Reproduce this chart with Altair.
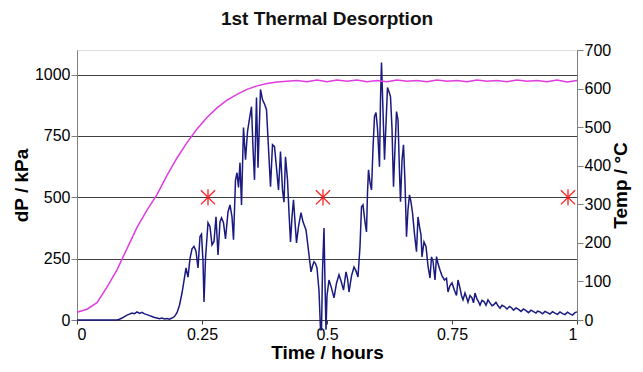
import altair as alt
import pandas as pd

# ---- data ----
time_dp = [0.0, 0.08, 0.085, 0.09, 0.095, 0.10, 0.105, 0.11, 0.115, 0.12, 0.125, 0.13, 0.135, 0.14, 0.145,
           0.15, 0.155, 0.16, 0.165, 0.17, 0.175, 0.18, 0.185, 0.19, 0.195, 0.20, 0.205, 0.21,
           0.214, 0.218, 0.222, 0.226, 0.230, 0.234, 0.238, 0.242, 0.246, 0.249, 0.252, 0.254, 0.257,
           0.262, 0.266, 0.270, 0.274, 0.278, 0.282, 0.286, 0.289, 0.293, 0.297, 0.302, 0.306, 0.310,
           0.313, 0.317, 0.320, 0.323, 0.326, 0.329, 0.333, 0.337, 0.341, 0.345, 0.349, 0.352, 0.355,
           0.359, 0.362, 0.367, 0.371, 0.375, 0.379, 0.383, 0.387, 0.391, 0.395, 0.399, 0.403, 0.407,
           0.411, 0.414, 0.417, 0.421, 0.424, 0.427, 0.430, 0.433, 0.436, 0.439, 0.443, 0.448, 0.452,
           0.458, 0.462, 0.468, 0.471, 0.474, 0.477, 0.480, 0.484, 0.487, 0.489, 0.491, 0.494, 0.496,
           0.498, 0.500, 0.504, 0.509, 0.514, 0.519, 0.524, 0.528, 0.533, 0.538, 0.541, 0.544, 0.549,
           0.554, 0.558, 0.562, 0.566, 0.569, 0.572, 0.576, 0.579, 0.581, 0.583, 0.586, 0.589, 0.592,
           0.595, 0.598, 0.601, 0.605, 0.607, 0.609, 0.612, 0.615, 0.618, 0.621, 0.624, 0.627, 0.630,
           0.633, 0.636, 0.639, 0.642, 0.645, 0.647, 0.650, 0.653, 0.656, 0.659, 0.662, 0.665, 0.668,
           0.671, 0.675, 0.679, 0.682, 0.685, 0.688, 0.690, 0.694, 0.698, 0.702, 0.706, 0.709, 0.712,
           0.716, 0.719, 0.722, 0.726, 0.730, 0.735, 0.739, 0.742, 0.746, 0.750, 0.755, 0.759, 0.762,
           0.766, 0.769, 0.772, 0.776, 0.779, 0.782, 0.786, 0.790, 0.793, 0.796, 0.800, 0.803, 0.806,
           0.810, 0.814, 0.818, 0.822, 0.826, 0.830, 0.833, 0.838, 0.842, 0.846, 0.850, 0.855, 0.860,
           0.865, 0.869, 0.873, 0.878, 0.883, 0.888, 0.893, 0.898, 0.903, 0.908, 0.913, 0.918, 0.921,
           0.926, 0.931, 0.936, 0.941, 0.946, 0.951, 0.956, 0.961, 0.966, 0.971, 0.976, 0.981, 0.986,
           0.991, 0.996, 1.0]
dp_kpa = [0, 0, 3, 8, 14, 20, 24, 28, 26, 33, 27, 31, 25, 22, 18,
          14, 10, 8, 5, 8, 4, 6, 3, 8, 14, 30, 60, 110,
          160, 212, 175, 250, 290, 300, 280, 212, 340, 350, 240, 73, 250,
          396, 380, 306, 320, 420, 265, 400, 416, 396, 330, 440, 469, 420,
          327, 570, 600, 540, 641, 469, 784, 653, 767, 820, 869, 700, 571,
          906, 620, 939, 898, 880, 857, 700, 543, 714, 706, 620, 530, 686,
          530, 480, 665, 571, 437, 318, 420, 490, 400, 314, 380, 437, 400,
          367, 300, 196, 220, 237, 230, 212, 120, -40, -40, 200, 375, 150,
          -40, 100, 163, 130, 90, 150, 184, 160, 122, 196, 170, 114, 180,
          216, 200, 175, 300, 461, 469, 400, 359, 518, 612, 560, 530, 700,
          829, 845, 780, 624, 900, 1049, 850, 653, 800, 947, 930, 910, 780,
          543, 700, 849, 816, 600, 482, 650, 714, 560, 339, 450, 510, 480,
          437, 350, 278, 420, 380, 347, 257, 318, 300, 220, 171, 257, 240,
          163, 258, 230, 204, 180, 163, 170, 114, 140, 151, 120, 100, 163,
          130, 100, 82, 110, 93, 73, 100, 90, 70, 110, 85, 75, 61,
          80, 75, 60, 82, 70, 58, 61, 72, 58, 48, 60, 55, 45,
          55, 50, 40, 49, 43, 35, 45, 38, 30, 40, 34, 28, 36,
          33, 25, 35, 30, 24, 34, 28, 23, 33, 26, 22, 32, 25,
          20, 30, 33]

time_temp = [0.0, 0.02, 0.04, 0.06, 0.08, 0.10, 0.12, 0.14, 0.16, 0.18, 0.20, 0.22, 0.24, 0.26,
             0.28, 0.30, 0.32, 0.34, 0.36, 0.38, 0.40, 0.42, 0.44, 0.46, 0.48, 0.50, 0.52, 0.54,
             0.56, 0.58, 0.60, 0.62, 0.64, 0.66, 0.68, 0.70, 0.72, 0.74, 0.76, 0.78, 0.80, 0.82,
             0.84, 0.86, 0.88, 0.90, 0.92, 0.94, 0.96, 0.98, 1.0]
temp_c = [20, 28, 45, 85, 130, 185, 240, 285, 325, 375, 420, 460, 495, 525,
          550, 570, 585, 598, 607, 613, 617, 619, 621, 618, 622, 618, 622, 619,
          622, 618, 621, 618, 622, 619, 621, 618, 622, 619, 621, 618, 622, 619,
          621, 618, 622, 619, 621, 618, 622, 617, 621]

marker_time = [0.262, 0.492, 0.982]
marker_dp = [500, 500, 500]

x_ticks = [0, 0.25, 0.5, 0.75, 1]
dp_ticks = [0, 250, 500, 750, 1000]
temp_ticks = [0, 100, 200, 300, 400, 500, 600, 700]

FONT = "Liberation Sans"
LBL = 16
TTL = 19

dp_df = pd.DataFrame({"t": time_dp, "dp": dp_kpa})
temp_df = pd.DataFrame({"t": time_temp, "temp": temp_c})
mk_df = pd.DataFrame({"t": marker_time, "dp": marker_dp})

x_enc = alt.X("t:Q", scale=alt.Scale(domain=[0, 1], nice=False),
              axis=alt.Axis(values=x_ticks, labelExpr="'' + datum.value", title="Time / hours",
                            grid=False, tickSize=4, domainColor="#404040", tickColor="#404040",
                            labelFontSize=LBL, titleFontSize=TTL, titlePadding=1, labelPadding=2))

dp_line = alt.Chart(dp_df).mark_line(color="#1a1a80", strokeWidth=1.5, clip=False).encode(
    x=x_enc,
    y=alt.Y("dp:Q", scale=alt.Scale(domain=[0, 1100], nice=False, zero=False),
            axis=alt.Axis(values=dp_ticks, labelExpr="'' + datum.value", title="dP / kPa",
                          orient="left", grid=True,
                          gridColor="#000000", gridWidth=1, gridOpacity=0.75,
                          domainColor="#808080", tickColor="#808080", tickSize=6,
                          labelFontSize=LBL, titleFontSize=TTL, labelPadding=1,
                          titleX=-56, titleY=135, titleAngle=270,
                          titleAlign="center", titleBaseline="middle")),
    order=alt.Order("t:Q"),
)

star_path = "M-1,-1L1,1M-1,1L1,-1M0,-1.15L0,1.15"
markers = alt.Chart(mk_df).mark_point(shape=star_path, size=200, color="#ff2020",
                                      strokeWidth=1.3, filled=False, opacity=1).encode(
    x=alt.X("t:Q"),
    y=alt.Y("dp:Q"),
)

left = alt.layer(dp_line, markers)

temp_line = alt.Chart(temp_df).mark_line(color="#e03ce0", strokeWidth=1.5).encode(
    x=alt.X("t:Q"),
    y=alt.Y("temp:Q", scale=alt.Scale(domain=[0, 700], nice=False),
            axis=alt.Axis(values=temp_ticks, title="Temp / °C", orient="right", grid=False,
                          domainColor="#808080", tickColor="#808080", tickSize=6,
                          labelFontSize=LBL, titleFontSize=TTL, labelPadding=1,
                          titleX=43, titleY=135, titleAngle=270,
                          titleAlign="center", titleBaseline="middle")),
)

chart = alt.layer(left, temp_line).resolve_scale(y="independent").properties(
    width=500, height=270,
    title=alt.TitleParams("1st Thermal Desorption", fontSize=19, fontWeight="bold",
                          font=FONT, anchor="middle", offset=13, color="#111111"),
    autosize=alt.AutoSizeParams(type="none"),
    padding={"left": 69, "top": 42, "right": 58, "bottom": 44},
).configure_view(
    fill="#c0c0c0", stroke="#808080", strokeWidth=1
).configure_axis(
    labelFont=FONT, titleFont=FONT, labelColor="#111111", titleColor="#111111",
    titleFontWeight="bold"
).configure(background="white")

chart.save("out.html", embed_options={"renderer": "svg", "actions": False})
